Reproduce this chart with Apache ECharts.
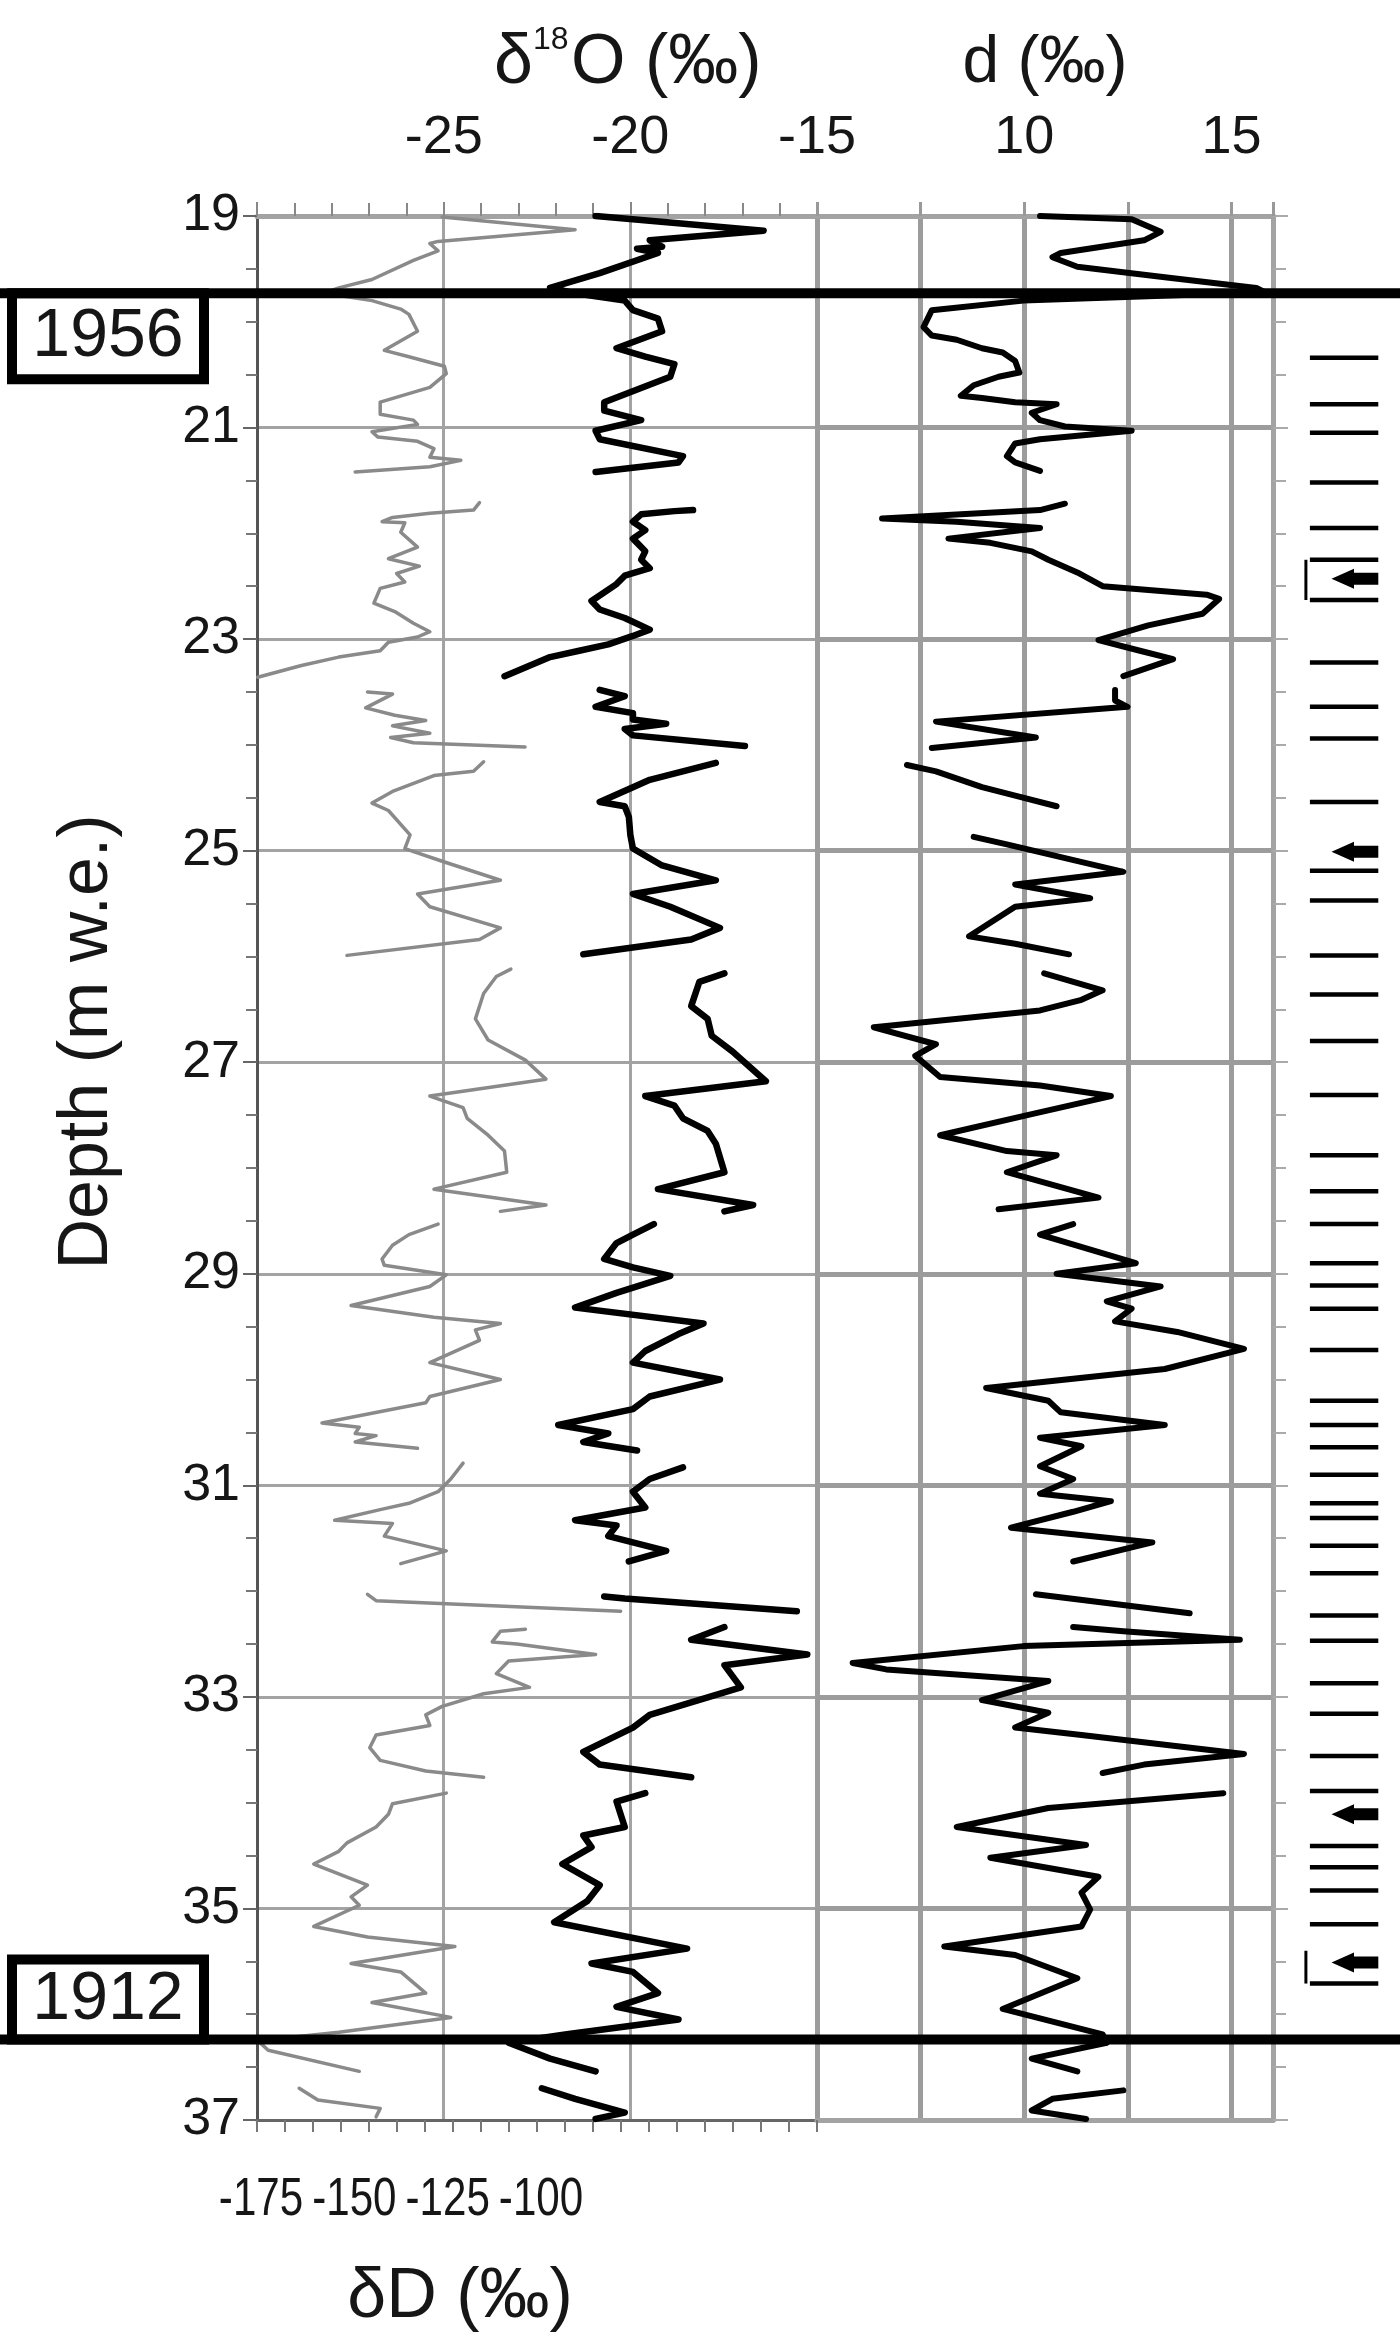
<!DOCTYPE html>
<html><head><meta charset="utf-8">
<script src="https://cdn.jsdelivr.net/npm/echarts@6/dist/echarts.min.js"></script>
<style>html,body{margin:0;padding:0;background:#fff}#c{width:1400px;height:2339px}</style>
</head><body><div id="c"></div>
<script>
// ---------------- DATA ----------------
const depthMin = 19, depthMax = 37;
const depthTicks = [19, 21, 23, 25, 27, 29, 31, 33, 35, 37];
const o18Ticks = [-25, -20, -15];
const dTicks = [10, 15];
const dDTicks = [-175, -150, -125, -100];
const yearLines = [{ year: '1956', depth: 19.73 }, { year: '1912', depth: 36.24 }];

// δD (‰) vs depth (m w.e.), null = gap
const dD = [
[-125.4,19.01],[-89.8,19.13],[-126.5,19.24],[-128.7,19.26],[-126.5,19.33],[-133.1,19.42],[-144.2,19.60],[-153.1,19.68],[-157,19.73],[-144.2,19.80],[-136.5,19.88],[-134.3,19.93],[-132.0,20.09],[-140.9,20.27],[-134.3,20.33],[-124.8,20.42],[-124.3,20.49],[-128.7,20.62],[-142.0,20.76],[-142.0,20.875],[-133.1,20.93],[-132.0,20.97],[-144.2,21.04],[-142.6,21.09],[-132.0,21.13],[-127.6,21.20],[-128.7,21.28],[-120.4,21.31],[-128.7,21.37],[-148.7,21.42],
null,
[-115.4,21.71],[-117.0,21.78],[-128.7,21.81],[-138.7,21.85],[-141.5,21.89],[-135.4,21.90],[-136.5,21.99],[-132.0,22.13],[-139.8,22.24],[-131.5,22.31],[-137.6,22.38],[-135.4,22.46],[-142.0,22.52],[-143.7,22.66],[-138.1,22.74],[-133.1,22.85],[-128.7,22.93],[-132.0,22.98],[-139.8,23.03],[-142.0,23.11],[-153.1,23.17],[-163.1,23.25],[-174.8,23.36],
null,
[-145.4,23.50],[-138.7,23.52],[-145.9,23.65],[-138.1,23.72],[-129.8,23.77],[-138.7,23.82],[-128.7,23.89],[-139.2,23.93],[-133.1,23.98],[-103.2,24.02],
null,
[-114.3,24.16],[-117.0,24.25],[-127.6,24.29],[-138.7,24.44],[-144.2,24.55],[-139.8,24.62],[-134.0,24.85],[-135.4,24.98],[-125.4,25.10],[-109.8,25.28],[-132.0,25.41],[-128.7,25.53],[-109.8,25.73],[-115.4,25.84],[-150.9,25.99],
null,
[-107.0,26.12],[-110.9,26.19],[-114.3,26.35],[-116.5,26.59],[-113.1,26.79],[-103.1,26.98],[-97.6,27.16],[-128.7,27.32],[-119.8,27.43],[-118.7,27.53],[-113.1,27.69],[-108.7,27.84],[-108.1,28.04],[-127.6,28.20],[-97.6,28.35],[-109.8,28.41],
null,
[-126.5,28.53],[-134.3,28.63],[-138.7,28.73],[-141.5,28.86],[-140.9,28.92],[-124.3,29.01],[-128.7,29.12],[-149.8,29.30],[-127.6,29.41],[-109.8,29.47],[-116.5,29.53],[-115.4,29.63],[-128.7,29.84],[-109.8,30.00],[-128.7,30.16],[-129.8,30.22],[-157.6,30.41],[-147.6,30.45],[-148.7,30.51],[-143.1,30.53],[-148.7,30.59],[-132.0,30.65],
null,
[-119.8,30.79],[-123.1,30.94],[-126.5,31.06],[-134.3,31.17],[-142.0,31.23],[-154.2,31.33],[-138.7,31.36],[-140.9,31.48],[-124.3,31.62],[-136.5,31.74],
null,
[-145.4,32.03],[-143.1,32.09],[-77.6,32.19],
null,
[-103.1,32.36],[-109.8,32.38],[-112.0,32.48],[-105.4,32.50],[-84.3,32.60],[-107.6,32.66],[-110.9,32.78],[-102.0,32.91],[-114.3,32.97],[-125.4,33.09],[-129.8,33.17],[-128.7,33.27],[-143.1,33.36],[-144.8,33.48],[-142.0,33.60],[-129.8,33.70],[-114.3,33.76],
null,
[-124.3,33.91],[-138.7,34.01],[-139.8,34.11],[-143.1,34.23],[-150.9,34.38],[-153.1,34.46],[-159.8,34.58],[-145.4,34.78],[-149.8,34.89],[-147.6,34.97],[-159.8,35.17],[-145.4,35.27],[-122.0,35.36],[-149.8,35.52],[-136.5,35.60],[-129.8,35.80],[-144.2,35.89],[-123.1,36.03],[-153.1,36.17],[-174.8,36.25],[-172.0,36.34],[-147.6,36.54],
null,
[-163.7,36.70],[-158.7,36.81],[-142.0,36.89],[-143.1,36.97]
];

// δ18O (‰) vs depth
const dO18 = [
[-20.93,19.00],[-16.43,19.14],[-19.48,19.23],[-19.15,19.29],[-19.82,19.31],[-19.26,19.35],[-20.82,19.54],[-22.15,19.68],[-21.48,19.73],[-20.15,19.80],[-19.93,19.89],[-19.26,19.97],[-19.15,20.09],[-20.37,20.25],[-19.60,20.33],[-18.82,20.40],[-18.93,20.52],[-20.70,20.76],[-20.70,20.84],[-19.71,20.93],[-20.93,21.03],[-20.82,21.11],[-18.59,21.27],[-18.71,21.33],[-20.93,21.42],
null,
[-18.32,21.78],[-18.82,21.79],[-19.71,21.82],[-19.93,21.89],[-19.60,21.97],[-19.93,22.05],[-19.60,22.17],[-19.71,22.25],[-19.48,22.33],[-20.15,22.40],[-20.37,22.48],[-21.04,22.64],[-20.82,22.72],[-20.15,22.80],[-19.48,22.91],[-19.93,22.97],[-20.59,23.05],[-21.37,23.11],[-22.15,23.17],[-23.37,23.35],
null,
[-20.82,23.48],[-20.15,23.54],[-20.93,23.64],[-19.93,23.70],[-19.93,23.76],[-19.04,23.80],[-20.15,23.85],[-19.93,23.91],[-16.93,24.01],
null,
[-17.71,24.17],[-19.48,24.33],[-19.93,24.40],[-20.82,24.54],[-20.15,24.58],[-20.04,24.68],[-20.0,24.85],[-19.93,24.98],[-19.15,25.14],[-17.71,25.28],[-19.93,25.41],[-18.93,25.53],[-17.60,25.73],[-18.37,25.84],[-21.26,25.98],
null,
[-17.48,26.16],[-18.15,26.24],[-18.37,26.47],[-17.93,26.59],[-17.82,26.75],[-17.26,26.90],[-16.37,27.18],[-19.60,27.32],[-18.82,27.41],[-18.59,27.53],[-17.93,27.65],[-17.71,27.77],[-17.48,28.04],[-19.26,28.20],[-16.71,28.35],[-17.48,28.41],
null,
[-19.37,28.53],[-19.93,28.63],[-20.37,28.71],[-20.70,28.86],[-19.93,28.94],[-18.93,29.02],[-20.37,29.18],[-21.48,29.32],[-18.04,29.47],[-18.71,29.57],[-19.60,29.73],[-19.93,29.84],[-17.60,30.00],[-19.48,30.16],[-19.93,30.28],[-21.93,30.43],[-20.59,30.51],[-21.26,30.59],[-19.82,30.67],
null,
[-18.59,30.83],[-19.48,30.94],[-19.93,31.06],[-19.60,31.21],[-21.48,31.33],[-20.37,31.38],[-20.59,31.48],[-19.04,31.62],[-20.04,31.72],
null,
[-20.70,32.05],[-20.15,32.07],[-15.54,32.19],
null,
[-17.48,32.34],[-18.37,32.46],[-15.26,32.60],[-17.48,32.70],[-17.04,32.91],[-19.48,33.17],[-19.93,33.29],[-21.26,33.52],[-20.82,33.64],[-18.37,33.76],
null,
[-19.60,33.91],[-20.37,33.99],[-20.15,34.23],[-21.26,34.31],[-21.04,34.42],[-21.82,34.58],[-20.82,34.78],[-21.15,34.93],[-22.04,35.13],[-18.48,35.38],[-21.04,35.52],[-19.93,35.60],[-19.26,35.80],[-20.37,35.93],[-18.71,36.05],[-21.70,36.19],[-23.26,36.27],[-22.15,36.42],[-20.93,36.54],
null,
[-22.37,36.70],[-21.48,36.80],[-20.15,36.93],[-20.93,36.99]
];

// deuterium excess d (‰) vs depth
const dExcess = [
[10.38,19.00],[12.59,19.03],[13.29,19.15],[12.89,19.23],[10.88,19.35],[10.68,19.39],[11.28,19.48],[13.39,19.58],[15.60,19.68],[15.80,19.72],[9.98,19.80],[7.77,19.89],[7.57,20.05],[7.77,20.13],[8.37,20.17],[8.98,20.25],[9.48,20.29],[9.78,20.37],[9.88,20.48],[9.38,20.52],[8.78,20.60],[8.47,20.70],[8.98,20.72],[9.78,20.76],[10.78,20.78],[10.18,20.86],[10.38,20.93],[10.98,20.99],[12.59,21.03],[10.38,21.11],[9.78,21.15],[9.58,21.27],[9.78,21.33],[10.38,21.41],
null,
[10.98,21.72],[10.38,21.78],[6.57,21.86],[8.37,21.89],[10.38,21.95],[8.17,22.05],[9.18,22.09],[10.18,22.17],[10.58,22.25],[11.28,22.37],[11.89,22.50],[14.40,22.58],[14.70,22.62],[14.30,22.76],[12.99,22.87],[11.79,23.01],[12.79,23.11],[13.59,23.19],[12.39,23.35],
null,
[12.19,23.48],[12.19,23.58],[12.49,23.64],[7.87,23.78],[10.28,23.93],[7.77,24.03],
null,
[7.17,24.19],[7.87,24.25],[8.98,24.40],[9.78,24.48],[10.78,24.58],
null,
[8.78,24.87],[9.58,24.94],[12.39,25.20],[9.78,25.32],[11.59,25.45],[9.78,25.53],[8.67,25.81],[9.78,25.88],[11.08,25.98],
null,
[10.48,26.16],[11.89,26.32],[11.38,26.41],[10.38,26.51],[6.37,26.67],[7.87,26.83],[7.37,26.94],[7.97,27.14],[10.38,27.22],[12.09,27.32],[10.18,27.49],[7.97,27.69],[9.58,27.84],[10.78,27.88],[9.58,28.04],[11.79,28.28],[9.38,28.39],
null,
[11.18,28.53],[10.38,28.63],[12.69,28.90],[10.78,29.00],[13.29,29.12],[11.99,29.26],[12.59,29.33],[12.19,29.45],[13.69,29.55],[15.30,29.71],[13.39,29.90],[9.08,30.08],[10.58,30.20],[10.88,30.31],[13.39,30.43],[10.38,30.55],[11.38,30.63],[10.38,30.82],[11.18,30.94],[10.38,31.08],[12.09,31.15],[11.18,31.25],[9.68,31.40],[13.09,31.54],[11.18,31.72],
null,
[10.28,32.03],[13.99,32.21],
null,
[11.18,32.34],[12.39,32.38],[15.20,32.46],[9.98,32.52],[5.86,32.68],[6.67,32.74],[10.58,32.85],[8.98,33.03],[10.58,33.15],[9.78,33.29],[11.38,33.36],[15.30,33.54],[12.89,33.64],[11.89,33.72],
null,
[14.80,33.91],[10.58,34.05],[8.37,34.23],[11.49,34.40],[9.18,34.52],[11.79,34.70],[11.38,34.85],[11.59,35.01],[11.38,35.17],[8.07,35.36],[9.78,35.44],[11.28,35.66],[9.48,35.95],[11.89,36.19],[11.99,36.27],[10.18,36.42],[11.28,36.54],
null,
[12.39,36.72],[10.68,36.80],[10.18,36.91],[11.49,36.99]
];

// annual-layer markers (depth, m w.e.) and arrows
const markerDepths = [20.34,20.78,21.05,21.52,21.95,22.25,22.63,23.22,23.64,23.94,24.54,25.19,25.47,25.99,26.36,26.80,27.31,27.88,28.22,28.53,28.90,29.11,29.33,29.72,30.20,30.43,30.64,30.90,31.17,31.31,31.57,31.83,32.23,32.47,32.87,33.16,33.56,33.89,34.41,34.61,34.83,35.15,35.71];
const arrowDepths = [22.43, 25.01, 34.11, 35.51];
const bracketRanges = [[22.25, 22.63], [35.40, 35.71]];

// ---------------- CHART ----------------
const FONT = "'Liberation Sans', Arial, Helvetica, sans-serif";
const TXT = '#161616';
const GRID_GRAY = '#a3a3a3';
const toLine = arr => arr.map(p => p ? p : ['-', '-']);

const chart = echarts.init(document.getElementById('c'), null, { renderer: 'canvas' });

const markerData = markerDepths.map(d => [0.5, d, 0, d])
  .concat(arrowDepths.map(d => [0.5, d, 1, d]))
  .concat(bracketRanges.map(r => [0.5, r[0], 2, r[1]]));

const yBase = { type: 'value', inverse: true, min: depthMin, max: depthMax, interval: 2 };

const option = {
  animation: false,
  backgroundColor: '#fff',
  grid: [
    { left: 257, top: 216, width: 560, height: 1904 },
    { left: 817, top: 216, width: 456, height: 1904 },
    { left: 1300, top: 216, width: 90, height: 1904 }
  ],
  xAxis: [
    { // 0: δ18O top
      gridIndex: 0, type: 'value', position: 'top', min: -30, max: -15, interval: 5,
      axisLine: { show: true, onZero: false, lineStyle: { color: GRID_GRAY, width: 5 } },
      axisTick: { show: true, length: 14, lineStyle: { color: '#888', width: 2 } },
      minorTick: { show: true, splitNumber: 5, length: 13, lineStyle: { color: '#888', width: 2 } },
      splitLine: { show: true, lineStyle: { color: GRID_GRAY, width: 3 } },
      axisLabel: { fontSize: 54, color: TXT, fontFamily: FONT, margin: 51,
        formatter: v => o18Ticks.includes(v) ? String(v) : '' }
    },
    { // 1: δD bottom axis line (labels drawn below as condensed text)
      gridIndex: 0, type: 'value', position: 'bottom', min: -175, max: -25, interval: 25,
      axisLine: { show: true, onZero: false, lineStyle: { color: '#666', width: 3 } },
      axisTick: { show: false }, splitLine: { show: false }, axisLabel: { show: false }
    },
    { // 2: δD bottom ticks
      gridIndex: 0, type: 'value', position: 'bottom', min: -175, max: -25, interval: 7.5,
      axisLine: { show: false, onZero: false },
      axisTick: { show: true, length: 12, lineStyle: { color: '#777', width: 2 } },
      axisLabel: { show: false }, splitLine: { show: false }
    },
    { // 3: d top
      gridIndex: 1, type: 'value', position: 'top', min: 5, max: 16, interval: 2.5,
      axisLine: { show: true, onZero: false, lineStyle: { color: GRID_GRAY, width: 5 } },
      axisTick: { show: true, length: 14, lineStyle: { color: '#999', width: 3 } },
      splitLine: { show: true, lineStyle: { color: '#9c9c9c', width: 5 } },
      axisLabel: { fontSize: 54, color: TXT, fontFamily: FONT, margin: 51,
        formatter: v => dTicks.includes(v) ? String(v) : '' }
    },
    { // 4: d bottom frame
      gridIndex: 1, type: 'value', position: 'bottom', min: 5, max: 16,
      axisLine: { show: true, onZero: false, lineStyle: { color: GRID_GRAY, width: 5 } },
      axisTick: { show: false }, axisLabel: { show: false }, splitLine: { show: false }
    },
    { // 5: marker column
      gridIndex: 2, type: 'value', min: 0, max: 1, show: false
    }
  ],
  yAxis: [
    Object.assign({}, yBase, {
      gridIndex: 0, position: 'left',
      axisLine: { show: true, onZero: false, lineStyle: { color: '#555', width: 3 } },
      axisTick: { show: true, length: 14, lineStyle: { color: '#666', width: 2 } },
      minorTick: { show: true, splitNumber: 4, length: 11, lineStyle: { color: '#777', width: 2 } },
      splitLine: { show: true, lineStyle: { color: GRID_GRAY, width: 3 } },
      axisLabel: { fontSize: 52, color: TXT, fontFamily: FONT, margin: 17,
        formatter: v => depthTicks.includes(v) ? String(v) : '' }
    }),
    Object.assign({}, yBase, {
      gridIndex: 1, position: 'right',
      axisLine: { show: true, onZero: false, lineStyle: { color: GRID_GRAY, width: 5 } },
      axisTick: { show: true, length: 15, lineStyle: { color: '#aaa', width: 2 } },
      minorTick: { show: true, splitNumber: 4, length: 13, lineStyle: { color: '#aaa', width: 2 } },
      splitLine: { show: true, lineStyle: { color: '#9c9c9c', width: 5 } },
      axisLabel: { show: false }
    }),
    Object.assign({}, yBase, { gridIndex: 2, show: false })
  ],
  series: [
    { name: 'δD', type: 'line', xAxisIndex: 1, yAxisIndex: 0, data: toLine(dD),
      showSymbol: false, symbol: 'none', connectNulls: false, z: 3,
      lineStyle: { color: '#8a8a8a', width: 3.5, join: 'round', cap: 'round' } },
    { name: 'δ18O', type: 'line', xAxisIndex: 0, yAxisIndex: 0, data: toLine(dO18),
      showSymbol: false, symbol: 'none', connectNulls: false, z: 4,
      lineStyle: { color: '#000', width: 6.5, join: 'round', cap: 'round' } },
    { name: 'd', type: 'line', xAxisIndex: 3, yAxisIndex: 1, data: toLine(dExcess),
      showSymbol: false, symbol: 'none', connectNulls: false, z: 4,
      lineStyle: { color: '#000', width: 6, join: 'round', cap: 'round' } },
    { name: 'layers', type: 'custom', xAxisIndex: 5, yAxisIndex: 2, data: markerData,
      encode: { x: 0, y: 1 }, z: 5,
      renderItem: function (params, api) {
        const kind = api.value(2);
        const a = api.coord([0.11, api.value(1)]);
        const b = api.coord([0.87, api.value(1)]);
        const y = a[1];
        if (kind === 0) {
          return { type: 'line', shape: { x1: a[0], y1: y, x2: b[0], y2: y },
            style: { stroke: '#000', lineWidth: 4.5 } };
        }
        if (kind === 1) {
          const tip = api.coord([0.35, 0])[0];
          const base = api.coord([0.6, 0])[0];
          return { type: 'polygon', shape: { points: [[tip, y], [base, y - 10], [base, y - 6], [b[0], y - 6], [b[0], y + 6], [base, y + 6], [base, y + 10]] },
            style: { fill: '#000' } };
        }
        const y2 = api.coord([0.11, api.value(3)])[1];
        return { type: 'line', shape: { x1: a[0] - 4, y1: y, x2: a[0] - 4, y2: y2 },
          style: { stroke: '#000', lineWidth: 3 } };
      } }
  ]
};
chart.setOption(option);

const graphics = [];
// condensed δD tick labels, placed through the δD axis
const yBottom = chart.convertToPixel({ yAxisIndex: 0 }, depthMax);
dDTicks.forEach(v => {
  const x = chart.convertToPixel({ xAxisIndex: 1 }, v);
  graphics.push({ type: 'text', z: 50, x: x + 4, y: yBottom + 80, scaleX: 0.78,
    style: { text: String(v), fontSize: 54, fontFamily: FONT, fill: TXT, align: 'center', verticalAlign: 'middle' } });
});
// year lines and boxes, positioned through the depth axis
yearLines.forEach((yl, i) => {
  const y = chart.convertToPixel({ yAxisIndex: 0 }, yl.depth);
  graphics.push({ type: 'line', z: 100, shape: { x1: 0, y1: y, x2: 1400, y2: y },
    style: { stroke: '#000', lineWidth: 10 } });
  const h = i === 0 ? 86 : 80;
  const top = i === 0 ? y : y - h;
  graphics.push({ type: 'rect', z: 99, shape: { x: 12, y: top, width: 192, height: h },
    style: { fill: '#fff', stroke: '#000', lineWidth: 10 } });
  graphics.push({ type: 'text', z: 101, x: 108, y: top + h / 2 + 1,
    style: { text: yl.year, fontSize: 68, fontFamily: FONT, fill: TXT, align: 'center', verticalAlign: 'middle' } });
});
// axis titles (δ18O built from pieces so the 18 sits as a superscript)
graphics.push({ type: 'text', z: 50, x: 494, y: 64,
  style: { text: 'δ', fontSize: 70, fontFamily: FONT, fill: TXT, align: 'left', verticalAlign: 'middle' } });
graphics.push({ type: 'text', z: 50, x: 533, y: 40,
  style: { text: '18', fontSize: 32, fontFamily: FONT, fill: TXT, align: 'left', verticalAlign: 'middle' } });
graphics.push({ type: 'text', z: 50, x: 571, y: 64,
  style: { text: 'O (‰)', fontSize: 70, fontFamily: FONT, fill: TXT, align: 'left', verticalAlign: 'middle' } });
graphics.push({ type: 'text', z: 50, x: 1045, y: 64,
  style: { text: 'd (‰)', fontSize: 66, fontFamily: FONT, fill: TXT, align: 'center', verticalAlign: 'middle' } });
graphics.push({ type: 'text', z: 50, x: 460, y: 2298,
  style: { text: 'δD (‰)', fontSize: 70, fontFamily: FONT, fill: TXT, align: 'center', verticalAlign: 'middle' } });
graphics.push({ type: 'text', z: 50, x: 88, y: 1042, rotation: Math.PI / 2,
  style: { text: 'Depth (m w.e.)', fontSize: 70, fontFamily: FONT, fill: TXT, align: 'center', verticalAlign: 'middle' } });
chart.setOption({ graphic: graphics });
</script>
</body></html>
